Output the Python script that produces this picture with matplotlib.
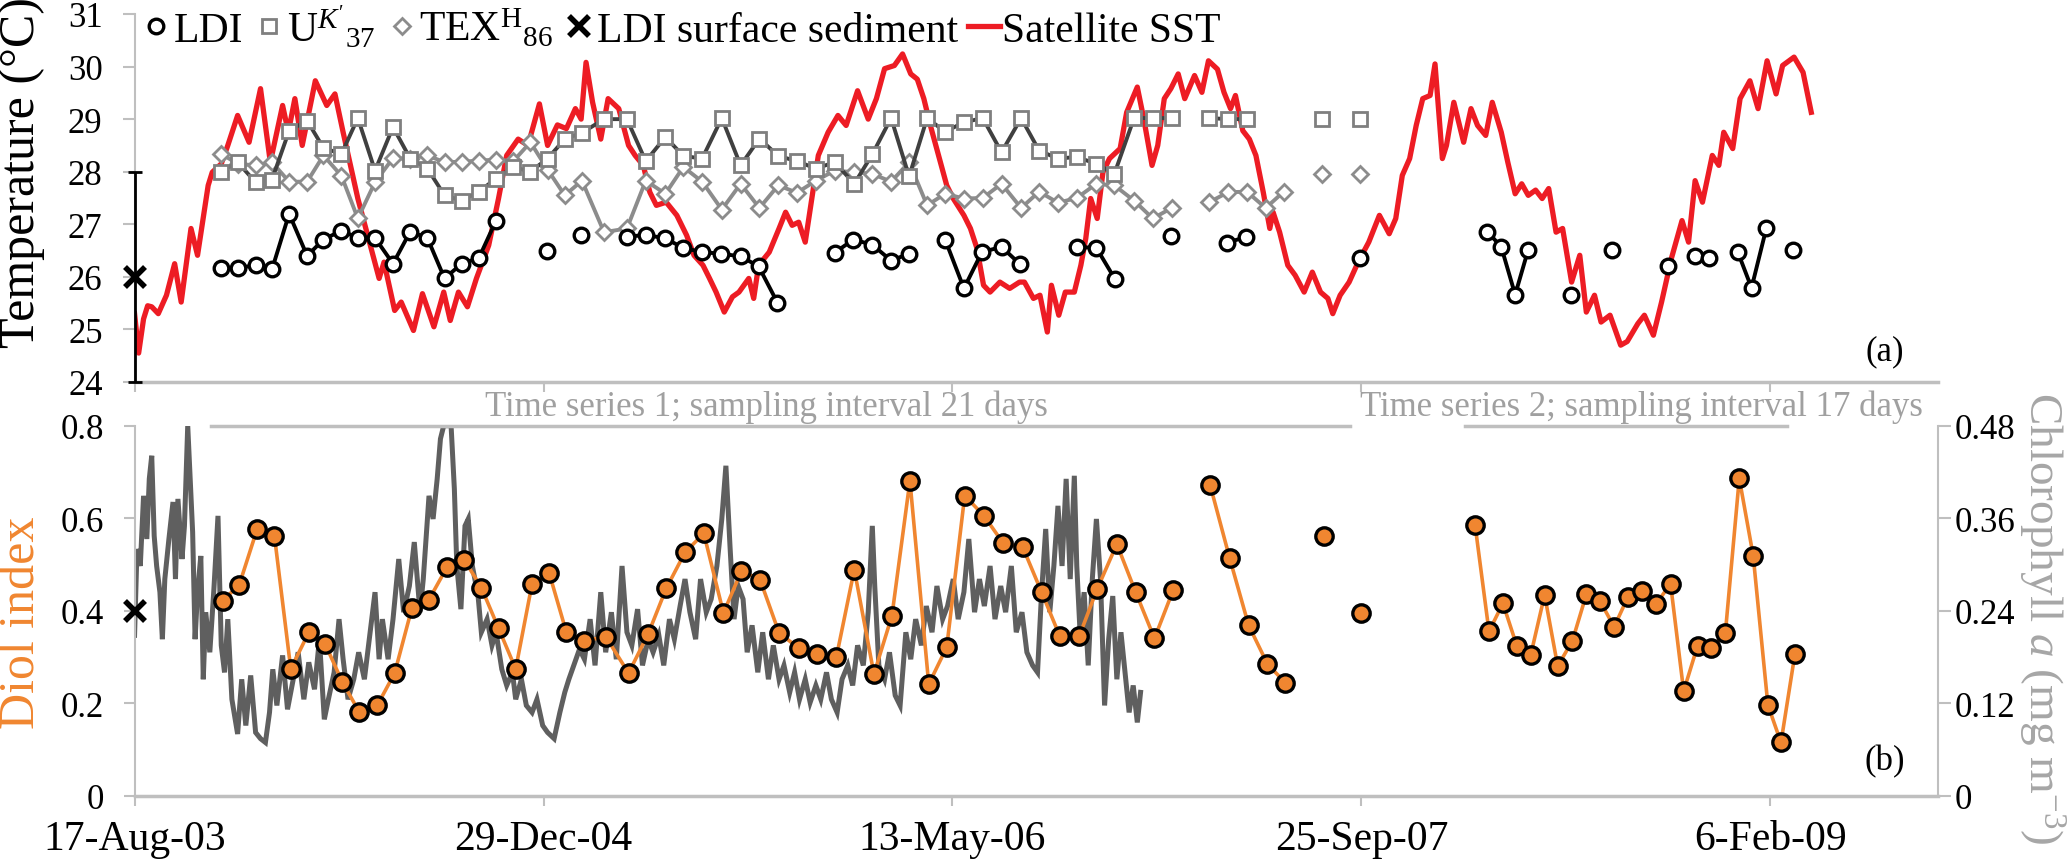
import numpy as np
import matplotlib
matplotlib.use("Agg")
import matplotlib.pyplot as plt
from matplotlib.lines import Line2D

plt.rcParams['font.family'] = ['Liberation Serif', 'DejaVu Serif']
plt.rcParams['mathtext.fontset'] = 'custom'
plt.rcParams['mathtext.rm'] = 'Liberation Serif'
plt.rcParams['mathtext.it'] = 'Liberation Serif:italic'
plt.rcParams['mathtext.bf'] = 'Liberation Serif:bold'

nan = np.nan

# x values are days after 17-Aug-03
tick_days = [0, 500, 1000, 1500, 2000]
tick_labels = ["17-Aug-03", "29-Dec-04", "13-May-06", "25-Sep-07", "6-Feb-09"]

# ---- panel (a): temperature proxies ----
ldi_days = [106, 126, 148, 168, 189, 211, 231, 253, 273, 294, 316, 337, 358, 379, 400, 421, 442, nan,
            504, nan, 546, nan,
            602, 625, 649, 671, 694, 717, 741, 763, 786, nan,
            856, 879, 902, 925, 947, nan,
            991, 1014, 1036, 1060, 1082, nan,
            1152, 1176, 1199, nan, 1267, nan, 1336, 1359, nan, 1498, nan,
            1654, 1671, 1688, 1704, nan, 1756, nan, 1807, nan, 1875, nan,
            1908, 1925, nan, 1960, 1977, 1995, nan, 2028]
ldi_temp = [26.17, 26.17, 26.22, 26.14, 27.20, 26.40, 26.71, 26.88, 26.74, 26.74, 26.25, 26.86, 26.74,
            25.97, 26.25, 26.36, 27.07, nan,
            26.50, nan, 26.80, nan,
            26.76, 26.80, 26.73, 26.55, 26.47, 26.44, 26.39, 26.20, 25.51, nan,
            26.46, 26.71, 26.61, 26.31, 26.44, nan,
            26.71, 25.78, 26.47, 26.57, 26.25, nan,
            26.57, 26.55, 25.95, nan, 26.78, nan, 26.65, 26.76, nan, 26.36, nan,
            26.86, 26.57, 25.66, 26.52, nan, 25.66, nan, 26.52, nan, 26.21, nan,
            26.40, 26.36, nan, 26.48, 25.79, 26.92, nan, 26.52]

proxy_days = [106, 126, 148, 168, 189, 211, 231, 253, 273, 294, 316, 337, 358, 379, 400, 421, 442,
              463, 484, 505, 526, 547, 574, 602, 625, 649, 671, 694, 718, 741, 764, 787, 810, 833,
              856, 880, 902, 925, 947, 969, 991, 1014, 1037, 1060, 1084, 1106, 1129, 1152, 1176,
              1198, 1222, 1245, 1268]

uk_days = proxy_days + [nan, 1314, 1337, 1360, nan, 1452, nan, 1498]
uk_temp = [28.0, 28.18, 27.8, 27.85, 28.78, 28.97, 28.45, 28.34, 29.02, 28.02,
           28.85, 28.25, 28.06, 27.55, 27.45, 27.62, 27.87, 28.09, 28.0, 28.25,
           28.62, 28.74, 29.0, 29.0, 28.2, 28.66, 28.3, 28.25, 29.02, 28.12,
           28.63, 28.3, 28.2, 28.06, 28.18, 27.77, 28.33, 29.02, 27.91, 29.02,
           28.76, 28.94, 29.02, 28.37, 29.02, 28.4, 28.25, 28.28, 28.15, 27.96,
           29.02, 29.02, 29.02, nan, 29.02, 29.0, 29.0, nan, 29.0, nan, 29.0]

tex_days = proxy_days + [nan, 1314, 1337, 1360, 1383, 1405, nan, 1452, nan, 1498]
tex_temp = [28.34, 28.15, 28.12, 28.18, 27.81, 27.81, 28.31, 27.92, 27.11, 27.80,
            28.26, 28.25, 28.31, 28.18, 28.19, 28.21, 28.23, 28.20, 28.56, 28.04,
            27.55, 27.83, 26.85, 26.92, 27.83, 27.58, 28.09, 27.81, 27.28, 27.77,
            27.31, 27.74, 27.60, 27.83, 28.02, 27.99, 27.96, 27.81, 28.18, 27.36,
            27.58, 27.49, 27.50, 27.77, 27.31, 27.62, 27.41, 27.50, 27.77, 27.74,
            27.45, 27.11, 27.31, nan, 27.42, 27.61, 27.62, 27.31, 27.62, nan, 27.96, nan, 27.96]

sst_days = [0, 5, 11, 16, 21, 29, 39, 49, 57, 69, 77, 90, 95, 106, 114, 126, 140, 154, 166, 181,
            188, 196, 205, 221, 235, 245, 255, 273, 284, 299, 305, 318, 326, 341, 352, 366, 378,
            386, 396, 407, 418, 433, 445, 455, 469, 481, 495, 505, 517, 528, 539, 546, 552, 560,
            570, 579, 592, 604, 612, 622, 630, 638, 650, 663, 675, 684, 695, 703, 711, 721, 731,
            739, 751, 757, 763, 776, 788, 796, 804, 812, 820, 828, 836, 848, 860, 870, 884, 897,
            907, 917, 929, 939, 949, 957, 965, 973, 983, 993, 1001, 1014, 1022, 1030, 1038, 1046,
            1058, 1070, 1082, 1088, 1099, 1107, 1116, 1121, 1130, 1138, 1149, 1157, 1163, 1169,
            1177, 1184, 1192, 1205, 1213, 1226, 1234, 1244, 1251, 1259, 1267, 1276, 1284, 1296,
            1305, 1313, 1324, 1332, 1340, 1346, 1355, 1363, 1371, 1380, 1388, 1392, 1400, 1410,
            1419, 1430, 1440, 1450, 1459, 1465, 1474, 1485, 1496, 1509, 1522, 1534, 1542, 1550,
            1559, 1567, 1575, 1584, 1590, 1599, 1604, 1613, 1625, 1634, 1642, 1652, 1660, 1671,
            1679, 1688, 1696, 1704, 1713, 1721, 1729, 1738, 1746, 1757, 1767, 1775, 1785, 1793,
            1804, 1817, 1825, 1838, 1846, 1857, 1867, 1879, 1892, 1900, 1908, 1917, 1929, 1937,
            1943, 1954, 1963, 1975, 1985, 1996, 2007, 2015, 2029, 2040, 2050]
sst_temp = [25.3, 24.55, 25.2, 25.45, 25.43, 25.3, 25.65, 26.25, 25.52, 26.92, 26.41, 27.74, 27.99,
            28.15, 28.5, 29.07, 28.56, 29.58, 28.18, 29.26, 28.75, 29.39, 28.5, 29.73, 29.26, 29.48,
            28.75, 27.49, 26.85, 25.97, 26.28, 25.36, 25.52, 24.98, 25.68, 25.05, 25.71, 25.17,
            25.71, 25.43, 25.97, 26.6, 27.49, 28.31, 28.62, 28.5, 29.29, 28.5, 28.89, 28.82, 29.2,
            29.0, 30.08, 29.32, 28.62, 29.39, 29.2, 28.5, 28.31, 28.12, 27.61, 27.36, 27.42, 27.17,
            26.79, 26.41, 26.22, 25.97, 25.71, 25.33, 25.62, 25.71, 25.97, 25.59, 26.22, 26.47,
            26.92, 27.23, 26.98, 27.04, 26.66, 27.49, 28.31, 28.75, 29.07, 28.88, 29.54, 29.0,
            29.39, 29.96, 30.02, 30.24, 29.86, 29.76, 29.39, 28.88, 28.31, 27.74, 27.49, 27.17,
            26.92, 26.54, 25.84, 25.71, 25.9, 25.78, 25.9, 25.9, 25.59, 25.65, 24.95, 25.84, 25.27,
            25.71, 25.71, 26.22, 26.73, 27.49, 27.11, 27.99, 28.25, 28.44, 29.13, 29.61, 29.0,
            28.12, 28.5, 29.39, 29.58, 29.86, 29.39, 29.83, 29.51, 30.11, 29.95, 29.51, 29.2,
            29.45, 28.78, 28.62, 28.31, 27.61, 26.92, 27.23, 26.85, 26.22, 26.03, 25.71, 26.09,
            25.71, 25.59, 25.3, 25.65, 25.9, 26.28, 26.66, 27.17, 26.82, 27.11, 27.93, 28.25,
            28.88, 29.39, 29.45, 30.05, 28.25, 28.5, 29.32, 28.56, 29.2, 28.88, 28.69, 29.32,
            28.75, 28.18, 27.58, 27.77, 27.55, 27.65, 27.49, 27.68, 26.85, 26.92, 25.9, 26.41,
            25.33, 25.65, 25.14, 25.27, 24.7, 24.77, 25.11, 25.27, 24.89, 25.52, 26.35, 27.07,
            26.66, 27.83, 27.42, 28.31, 28.12, 28.75, 28.44, 29.39, 29.73, 29.2, 30.11, 29.48,
            30.02, 30.18, 29.89, 29.13]

sed_day = 0
sed_temp = 26.0
sed_temp_err = 2.0
sed_diol = 0.40

# ---- panel (b): diol index and chlorophyll a ----
diol_days = [108, 128, 150, 171, 191, 213, 233, 254, 275, 297, 318, 339, 360, 382, 403, 424, 445,
             466, 486, 507, 528, 549, 576, 604, 628, 650, 673, 696, 720, 742, 765, 788, 812, 834,
             858, 880, 904, 926, 948, 971, 993, 1015, 1039, 1062, 1086, 1109, 1131, 1155, 1177,
             1201, 1224, 1247, 1270, nan,
             1315, 1339, 1362, 1385, 1407, nan, 1454, nan, 1500, nan,
             1639, 1656, 1673, 1690, 1707, 1724, 1740, 1758, 1775, 1792, 1809, 1826, 1843, 1860,
             1878, 1894, 1911, 1928, 1945, 1962, 1979, 1997, 2013, 2030]
diol_vals = [0.422, 0.456, 0.577, 0.562, 0.274, 0.353, 0.328, 0.246, 0.180, 0.196, 0.265, 0.405,
             0.424, 0.494, 0.510, 0.450, 0.362, 0.274, 0.458, 0.481, 0.353, 0.334, 0.344, 0.265,
             0.350, 0.448, 0.526, 0.567, 0.395, 0.486, 0.466, 0.352, 0.319, 0.306, 0.299, 0.489,
             0.263, 0.389, 0.681, 0.241, 0.321, 0.649, 0.604, 0.546, 0.537, 0.440, 0.346, 0.345,
             0.447, 0.544, 0.440, 0.340, 0.445, nan,
             0.672, 0.513, 0.369, 0.285, 0.244, nan, 0.561, nan, 0.394, nan,
             0.585, 0.355, 0.416, 0.324, 0.304, 0.434, 0.280, 0.335, 0.435, 0.420, 0.365, 0.430,
             0.442, 0.414, 0.458, 0.226, 0.324, 0.319, 0.352, 0.686, 0.519, 0.196, 0.115, 0.306]

chl_days = [0, 3, 7, 11, 15, 18, 21, 24, 27, 31, 34, 37, 42, 47, 50, 53, 58, 61, 65, 68, 71, 74,
            77, 81, 84, 87, 92, 97, 102, 106, 110, 114, 119, 126, 131, 136, 142, 148, 154, 160,
            165, 169, 174, 181, 187, 194, 200, 207, 213, 220, 226, 232, 237, 244, 250, 255, 261,
            268, 274, 281, 287, 294, 299, 303, 310, 316, 323, 329, 336, 342, 349, 353, 360, 365,
            370, 374, 378, 381, 384, 387, 391, 394, 399, 404, 408, 413, 420, 424, 431, 437, 442,
            449, 455, 462, 466, 473, 479, 486, 492, 499, 505, 513, 520, 526, 531, 537, 544, 550,
            557, 563, 570, 576, 583, 589, 596, 602, 608, 615, 621, 628, 634, 641, 647, 654, 660,
            667, 673, 679, 686, 692, 699, 705, 712, 718, 723, 728, 733, 738, 744, 749, 755, 762,
            768, 775, 781, 788, 794, 801, 807, 813, 820, 826, 833, 839, 846, 852, 859, 865, 872,
            878, 884, 891, 897, 902, 905, 910, 917, 923, 930, 936, 943, 949, 955, 962, 968, 975,
            981, 988, 994, 1001, 1007, 1014, 1020, 1027, 1033, 1039, 1046, 1052, 1059, 1065, 1072,
            1078, 1085, 1091, 1098, 1104, 1109, 1114, 1119, 1124, 1129, 1134, 1139, 1144, 1149,
            1152, 1156, 1161, 1166, 1171, 1176, 1181, 1186, 1191, 1196, 1201, 1206, 1211, 1216,
            1221, 1226, 1230]
chl_vals = [0.208, 0.320, 0.298, 0.389, 0.333, 0.411, 0.441, 0.337, 0.298, 0.264, 0.203, 0.281,
            0.333, 0.381, 0.281, 0.385, 0.307, 0.350, 0.480, 0.411, 0.342, 0.203, 0.264, 0.311,
            0.151, 0.238, 0.186, 0.268, 0.363, 0.195, 0.160, 0.229, 0.125, 0.080, 0.151, 0.091,
            0.156, 0.082, 0.074, 0.069, 0.108, 0.164, 0.117, 0.182, 0.112, 0.151, 0.186, 0.125,
            0.173, 0.138, 0.203, 0.099, 0.125, 0.160, 0.229, 0.177, 0.125, 0.151, 0.186, 0.151,
            0.203, 0.264, 0.177, 0.229, 0.177, 0.229, 0.307, 0.238, 0.272, 0.329, 0.238, 0.281,
            0.389, 0.359, 0.411, 0.463, 0.480, 0.480, 0.480, 0.480, 0.398, 0.298, 0.242, 0.350,
            0.359, 0.298, 0.259, 0.212, 0.229, 0.195, 0.212, 0.164, 0.143, 0.160, 0.125, 0.151,
            0.117, 0.108, 0.125, 0.091, 0.082, 0.074, 0.108, 0.134, 0.151, 0.169, 0.190, 0.177,
            0.229, 0.169, 0.264, 0.186, 0.238, 0.177, 0.298, 0.212, 0.195, 0.242, 0.169, 0.203,
            0.186, 0.208, 0.169, 0.229, 0.203, 0.246, 0.281, 0.238, 0.203, 0.281, 0.238, 0.255,
            0.298, 0.359, 0.428, 0.324, 0.229, 0.272, 0.255, 0.186, 0.221, 0.160, 0.212, 0.151,
            0.195, 0.151, 0.169, 0.134, 0.160, 0.125, 0.151, 0.121, 0.143, 0.125, 0.160, 0.125,
            0.108, 0.151, 0.169, 0.143, 0.195, 0.169, 0.238, 0.350, 0.272, 0.169, 0.151, 0.186,
            0.130, 0.117, 0.212, 0.177, 0.229, 0.195, 0.246, 0.212, 0.272, 0.229, 0.246, 0.281,
            0.229, 0.264, 0.333, 0.238, 0.281, 0.246, 0.298, 0.229, 0.272, 0.238, 0.298, 0.212,
            0.238, 0.186, 0.169, 0.160, 0.264, 0.346, 0.238, 0.298, 0.376, 0.298, 0.411, 0.281,
            0.415, 0.298, 0.212, 0.264, 0.169, 0.281, 0.359, 0.281, 0.117, 0.203, 0.259, 0.151,
            0.212, 0.160, 0.108, 0.143, 0.095, 0.134]

# spans of the two sampling campaigns (days)
ts1_span = [94, 1486]
ts2_span = [1627, 2020]
ts1_label_day = 429
ts2_label_day = 1498

RED = '#ED1C24'
ORANGE = '#F08630'
LGRAY = '#BFBFBF'
TXTGRAY = '#A0A0A0'

fig = plt.figure(figsize=(20.67, 8.62), dpi=100)
ax_t = fig.add_axes([0.0651, 0.5557, 0.8725, 0.4269])
ax_b = fig.add_axes([0.0651, 0.0758, 0.8725, 0.4292])
ax_c = ax_b.twinx()

# ---- top panel ----
ax_t.plot(sst_days, sst_temp, color=RED, lw=3.8, solid_joinstyle='round', zorder=2)
ax_t.plot(tex_days, tex_temp, color='#8C8C8C', lw=2.8, marker='D', ms=8.5, mfc='white',
          mec='#8C8C8C', mew=2, zorder=3)
ax_t.plot(uk_days, uk_temp, color='#404040', lw=2.8, marker='s', ms=9.5, mfc='white',
          mec='#7F7F7F', mew=2, zorder=3)
ax_t.plot(ldi_days, ldi_temp, color='black', lw=2.8, marker='o', ms=10.5, mfc='white',
          mec='black', mew=2.4, zorder=4)
ax_t.errorbar([sed_day], [sed_temp], yerr=[[sed_temp_err], [sed_temp_err]], fmt='none',
              ecolor='black', elinewidth=2, capsize=5, capthick=2, clip_on=False, zorder=5)
ax_t.plot([sed_day], [sed_temp], ls='none', marker='x', ms=14, mew=4, color='black',
          clip_on=False, zorder=6)

ax_t.set_xlim(0, 2205)
ax_t.set_ylim(24, 31)
ax_t.set_yticks(range(24, 32))
ax_t.set_xticks(tick_days)
ax_t.set_xticklabels([])
for s in ['top', 'right']:
    ax_t.spines[s].set_visible(False)
ax_t.spines['left'].set_color(LGRAY)
ax_t.spines['left'].set_linewidth(1.5)
ax_t.spines['bottom'].set_color(LGRAY)
ax_t.spines['bottom'].set_linewidth(2.5)
ax_t.tick_params(axis='y', labelsize=25, length=9, width=1.5, color=LGRAY, pad=14)
ax_t.tick_params(axis='x', length=7, width=1.5, color=LGRAY)

handles = [
    Line2D([], [], ls='none', marker='o', ms=10.5, mfc='white', mec='black', mew=2.4),
    Line2D([], [], ls='none', marker='s', ms=9.5, mfc='white', mec='#7F7F7F', mew=2),
    Line2D([], [], ls='none', marker='D', ms=8.5, mfc='white', mec='#8C8C8C', mew=2),
    Line2D([], [], ls='none', marker='x', ms=14, mew=4, color='black'),
    Line2D([], [], color=RED, lw=3.8),
]
labels = ["LDI", r"$\mathrm{U}^{K'}{}_{37}$", r"$\mathrm{TEX}^{\mathrm{H}}{}_{86}$",
          "LDI surface sediment", "Satellite SST"]
fig.legend(handles, labels, loc='upper left', bbox_to_anchor=(0.066, 1.0), ncol=5,
           frameon=False, fontsize=30, handlelength=0.75, handletextpad=0.05,
           columnspacing=0.25, borderaxespad=0, borderpad=0.1)

# ---- bottom panel ----
ax_c.plot(chl_days, chl_vals, color='#5F5F5F', lw=3.6, solid_joinstyle='miter', zorder=1)
ax_c.set_ylim(0, 0.48)
ax_c.set_yticks([0, 0.12, 0.24, 0.36, 0.48])
ax_c.set_yticklabels(["0", "0.12", "0.24", "0.36", "0.48"])

ax_b.set_zorder(ax_c.get_zorder() + 1)
ax_b.patch.set_visible(False)
ax_b.plot(diol_days, diol_vals, color=ORANGE, lw=2.6, marker='o', ms=12.5, mfc=ORANGE,
          mec='black', mew=2.4, zorder=3)
ax_b.plot([sed_day], [sed_diol], ls='none', marker='x', ms=14, mew=4, color='black',
          clip_on=False, zorder=6)
ax_b.set_xlim(0, 2205)
ax_b.set_ylim(0, 0.8)
ax_b.set_yticks([0, 0.2, 0.4, 0.6, 0.8])
ax_b.set_yticklabels(["0", "0.2", "0.4", "0.6", "0.8"])
ax_b.set_xticks(tick_days)
ax_b.set_xticklabels(tick_labels)

for a in (ax_b, ax_c):
    a.spines['top'].set_visible(False)
ax_b.spines['right'].set_visible(False)
ax_c.spines['left'].set_visible(False)
ax_c.spines['bottom'].set_visible(False)
ax_b.spines['left'].set_color(LGRAY)
ax_b.spines['left'].set_linewidth(1.5)
ax_b.spines['bottom'].set_color(LGRAY)
ax_b.spines['bottom'].set_linewidth(2.5)
ax_c.spines['right'].set_color(LGRAY)
ax_c.spines['right'].set_linewidth(1.5)
ax_b.tick_params(axis='y', labelsize=25, length=8, width=1.5, color=LGRAY, pad=14)
ax_b.tick_params(axis='x', labelsize=30, length=7, width=1.5, color=LGRAY, pad=10)
ax_c.tick_params(axis='y', labelsize=25, length=9, width=1.5, color=LGRAY, pad=3)

# sampling campaign bars and notes
xt = ax_b.get_xaxis_transform()
ax_b.plot(ts1_span, [1, 1], transform=xt, color=LGRAY, lw=2.5, clip_on=False)
ax_b.plot(ts2_span, [1, 1], transform=xt, color=LGRAY, lw=2.5, clip_on=False)
ax_b.text(ts1_label_day, 1.03, "Time series 1; sampling interval 21 days", transform=xt,
          fontsize=25, color=TXTGRAY, va='baseline', ha='left')
ax_b.text(ts2_label_day, 1.03, "Time series 2; sampling interval 17 days", transform=xt,
          fontsize=25, color=TXTGRAY, va='baseline', ha='left')

# axis titles and panel letters
fig.text(0.0106, 0.80, "Temperature (°C)", rotation=90, ha='center', va='center', fontsize=36)
fig.text(0.0106, 0.278, "Diol index", rotation=90, ha='center', va='center', fontsize=36,
         color=ORANGE)
fig.text(0.9875, 0.283, r"Chlorophyll $\mathit{a}$ (mg m$^{-3}$)", rotation=270, ha='center',
         va='center', fontsize=34, color='#A6A6A6')
fig.text(0.912, 0.592, "(a)", ha='center', va='center', fontsize=25)
fig.text(0.912, 0.116, "(b)", ha='center', va='center', fontsize=25)

fig.savefig('out.png', dpi=100)
